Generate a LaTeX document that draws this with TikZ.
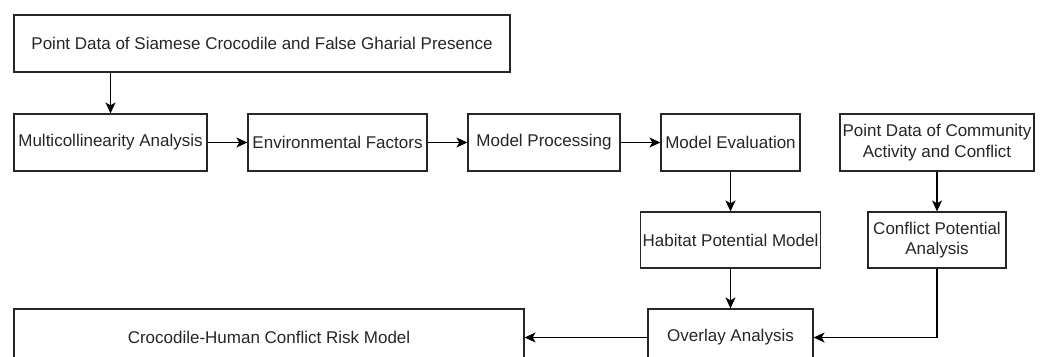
\documentclass[tikz,border=0pt]{standalone}
\usepackage{fontspec}
\setmainfont{Liberation Sans}
\usetikzlibrary{arrows.meta}
\begin{document}
\begin{tikzpicture}[x=1pt,y=-1pt,
  box/.style={draw=black!85,line width=1.2pt,fill=white,inner sep=0pt,align=center,
    font=\fontsize{17}{20.5}\selectfont,text=black!85},
  arr/.style={line width=1.2pt,draw=black,-{Stealth[length=11pt,width=10pt,inset=3pt]}}]
\useasboundingbox[fill=white] (0,0) rectangle (1040,356);
\node[box,minimum width=496pt,minimum height=57pt] (top) at (262,43.5) {Point Data of Siamese Crocodile and False Gharial Presence};
\node[box,minimum width=193pt,minimum height=57pt] (multi) at (110.5,142.5) {Multicollinearity Analysis};
\node[box,minimum width=179pt,minimum height=57pt] (env) at (337.5,142.5) {Environmental Factors};
\node[box,minimum width=152pt,minimum height=57pt] (proc) at (544,142.5) {Model Processing};
\node[box,minimum width=139pt,minimum height=57pt] (eval) at (730.5,142.5) {Model Evaluation};
\node[box,minimum width=194pt,minimum height=57pt] (comm) at (937,142.5) {Point Data of Community\\Activity and Conflict};
\node[box,minimum width=180pt,minimum height=56pt] (hab) at (730.5,240) {Habitat Potential Model};
\node[box,minimum width=138pt,minimum height=56pt] (conf) at (937,240) {Conflict Potential\\Analysis};
\node[box,minimum width=165pt,minimum height=57pt] (over) at (730.5,337.5) {Overlay Analysis};
\node[box,minimum width=510pt,minimum height=57pt] (croc) at (269,337.5) {Crocodile-Human Conflict Risk Model};
\draw[arr] (multi.north |- top.south) -- (multi.north);
\draw[arr] (multi) -- (env);
\draw[arr] (env) -- (proc);
\draw[arr] (proc) -- (eval);
\draw[arr] (eval) -- (hab);
\draw[arr] (comm) -- (conf);
\draw[arr] (hab) -- (over);
\draw[arr] (conf.south) |- (over.east);
\draw[arr] (over) -- (croc);
\end{tikzpicture}
\end{document}
